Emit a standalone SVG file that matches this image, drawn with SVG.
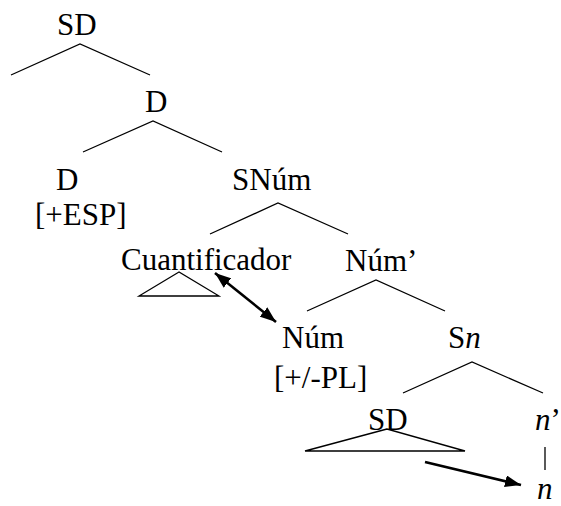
<svg xmlns="http://www.w3.org/2000/svg" width="561" height="506" viewBox="0 0 561 506">
<style>
text{font-family:"Liberation Serif","DejaVu Serif","Times New Roman",serif;font-size:31px;fill:#000}
.e{stroke:#000;stroke-width:1.3;fill:none}
.a{stroke:#000;stroke-width:2.6;fill:none}
</style>
<defs>
<marker id="ah" viewBox="0 0 16 12" refX="16" refY="6" markerWidth="16" markerHeight="12" markerUnits="userSpaceOnUse" orient="auto-start-reverse">
<path d="M0,0 L16,6 L0,12 Z" fill="#000"/>
</marker>
</defs>
<rect width="561" height="506" fill="#fff"/>
<g id="n-sd"><text x="57" y="35">SD</text></g>
<g id="n-d1"><text x="145" y="112">D</text></g>
<g id="n-d2"><text x="56" y="190">D</text><text x="35" y="225">[+ESP]</text></g>
<g id="n-snum"><text x="232" y="190">SNúm</text></g>
<g id="n-cuant"><text x="121" y="270">Cuantificador</text><path class="e" d="M179,272 L139,296 L219,296 Z"/></g>
<g id="n-numbar"><text x="345" y="271">Núm’</text></g>
<g id="n-num"><text x="282" y="348">Núm</text><text x="274" y="388">[+/-PL]</text></g>
<g id="n-sn"><text x="448" y="348">S<tspan font-style="italic">n</tspan></text></g>
<g id="n-sd2"><text x="368" y="430">SD</text><path class="e" d="M387,429 L305,451 L465,451 Z"/></g>
<g id="n-nbar"><text x="535" y="430"><tspan font-style="italic">n</tspan>’</text></g>
<g id="n-n"><text x="537" y="499" font-style="italic">n</text></g>
<g id="connectors">
<path class="e" d="M11,75 L80,44 L150,75"/>
<path class="e" d="M83,152 L153,121 L222,152"/>
<path class="e" d="M210,234 L278,203 L348,234"/>
<path class="e" d="M307,311 L376,280 L445,311"/>
<path class="e" d="M403,393 L472,362 L543,393"/>
<path class="e" d="M545,447 L545,470"/>
<path class="a" d="M215,273 L276,322" marker-start="url(#ah)" marker-end="url(#ah)"/>
<path class="a" d="M425,462 L521,485" marker-end="url(#ah)"/>
</g>
</svg>
